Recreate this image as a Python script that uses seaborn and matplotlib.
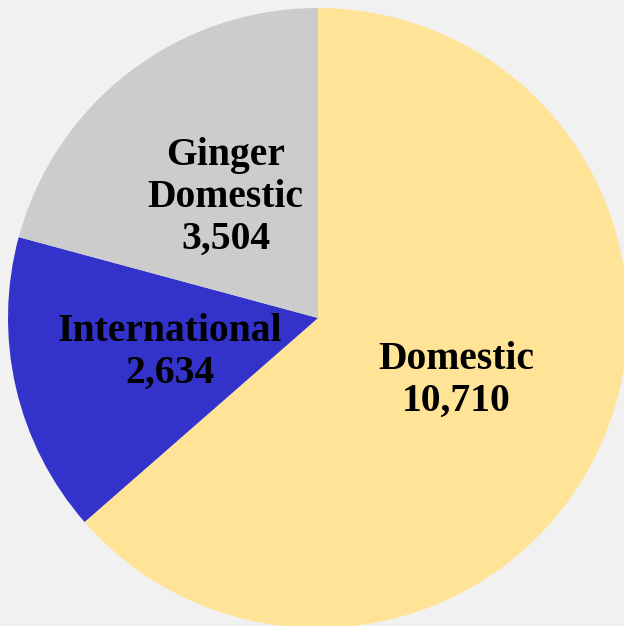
import matplotlib
matplotlib.use("Agg")
import matplotlib.pyplot as plt
import seaborn as sns

categories = ["Domestic", "International", "Ginger\nDomestic"]
values = [10710, 2634, 3504]
colors = ["#FFE396", "#3333CC", "#CCCCCC"]

sns.set_style("white")
plt.rcParams["font.family"] = ["Liberation Serif", "DejaVu Serif"]

W, H = 624, 626
fig = plt.figure(figsize=(W / 100, H / 100), dpi=100, facecolor="#f1f1f1")
cx, cy, r = 318, 626 - 318, 310
ax = fig.add_axes([(cx - r) / W, (cy - r) / H, 2 * r / W, 2 * r / H])
ax.set_facecolor("none")

labels = [f"{c}\n{v:,}" for c, v in zip(categories, values)]
wedges, texts = ax.pie(values, colors=colors, startangle=90, counterclock=False,
                       labels=labels, labeldistance=0.49,
                       wedgeprops=dict(linewidth=0))
for t in texts:
    t.set_fontsize(28.5)
    t.set_fontweight("bold")
    t.set_ha("center")
    t.set_va("center")
    t.set_multialignment("center")
    t.set_linespacing(1.18)
    t.set_color("black")
ax.set_xlim(-1, 1)
ax.set_ylim(-1, 1)
ax.set_aspect("equal")
ax.axis("off")
fig.savefig("out.png", dpi=100, facecolor=fig.get_facecolor())
